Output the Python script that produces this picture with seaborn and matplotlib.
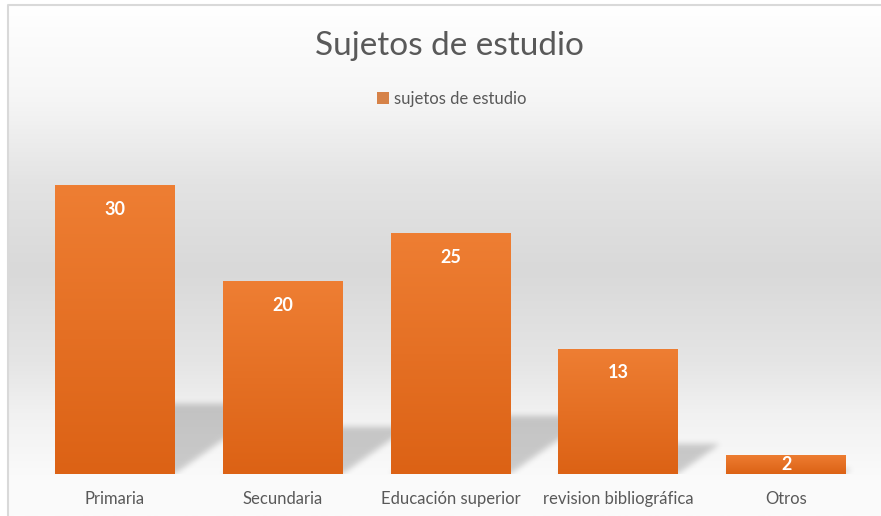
import numpy as np
import pandas as pd
import seaborn as sns
import matplotlib.pyplot as plt
from matplotlib.colors import LinearSegmentedColormap
from matplotlib.lines import Line2D

# data
categorias = ['Primaria', 'Secundaria', 'Educación superior', 'revision bibliográfica', 'Otros']
valores = [30, 20, 25, 13, 2]
serie = 'sujetos de estudio'

df = pd.DataFrame({'categoria': categorias, 'valor': valores, 'serie': serie})

W, H = 881, 516
fig = plt.figure(figsize=(W / 100, H / 100), dpi=100)
fig.patch.set_facecolor('white')
font = ['Lato', 'DejaVu Sans']
gris = '#595959'
naranja = '#ed7d31'

# background gradient inside the chart border
bg = fig.add_axes([8 / W, 0, 1 - 8 / W, 1 - 5 / H])
bg.set_zorder(0)
stops = [(0.0, '#ffffff'), (0.18, '#f6f6f6'), (0.35, '#e3e3e3'), (0.52, '#d9d9d9'),
         (0.70, '#e5e5e5'), (0.80, '#f1f1f1'), (0.92, '#fafafa'), (1.0, '#fbfbfb')]
cmap_bg = LinearSegmentedColormap.from_list('bg', stops)
bg.imshow(np.linspace(0, 1, 256).reshape(-1, 1), cmap=cmap_bg, aspect='auto',
          extent=[0, 1, 0, 1])
bg.axis('off')
fig.add_artist(Line2D([8 / W, 8 / W, 1], [0, 1 - 5 / H, 1 - 5 / H],
                      transform=fig.transFigure, color='#d9d9d9', lw=1.5))

ax = fig.add_axes([31 / W, 42 / H, 839 / W, 337 / H])
ax.set_zorder(1)
ax.patch.set_alpha(0)

sns.barplot(data=df, x='categoria', y='valor', hue='serie', palette=[naranja],
            dodge=False, width=0.715, ax=ax, zorder=3)
ymax = 35

# perspective shadows behind the bars (rasterised and blurred)
nx, ny = 839, 337
xs = np.linspace(-0.5, 4.5, nx)
ys = np.linspace(0, ymax, ny)
X, Y = np.meshgrid(xs, ys)
skew = 0.0815
mask = np.zeros_like(X)
for i, v in enumerate(valores):
    sh = 0.24 * v
    x0, x1 = i - 0.3575, i + 0.3575
    inside = (Y <= sh) & (X >= x0 + skew * Y) & (X <= x1 + skew * Y)
    mask[inside] = 1.0
k = np.exp(-0.5 * (np.arange(-9, 10) / 3.0) ** 2)
k /= k.sum()
blur = np.apply_along_axis(lambda r: np.convolve(r, k, mode='same'), 1, mask)
blur = np.apply_along_axis(lambda c: np.convolve(c, k, mode='same'), 0, blur)
rgba = np.zeros((ny, nx, 4))
rgba[..., 3] = 0.19 * blur
ax.imshow(rgba, origin='lower', aspect='auto', extent=[-0.5, 4.5, 0, ymax],
          zorder=1, interpolation='bilinear')

# vertical gradient on each bar
cmap_bar = LinearSegmentedColormap.from_list('bar', ['#dc6215', '#ee7e33'])
grad = np.linspace(0, 1, 128).reshape(-1, 1)
for p in ax.patches:
    if p.get_zorder() != 3 or p.get_height() <= 0:
        continue
    x, y, w, h = p.get_x(), p.get_y(), p.get_width(), p.get_height()
    im = ax.imshow(grad, cmap=cmap_bar, aspect='auto', origin='lower',
                   extent=[x, x + w, y, y + h], zorder=4)
    im.set_clip_path(p)
ax.set_xlim(-0.5, 4.5)
ax.set_ylim(0, ymax)

# data labels
for i, v in enumerate(valores):
    ax.text(i, max(v - 2.5, v / 2), str(v), ha='center', va='center', color='white',
            fontsize=13, fontweight='bold', family=font, zorder=5)

sns.despine(ax=ax, left=True, bottom=True)
ax.set_yticks([])
ax.set_xlabel('')
ax.set_ylabel('')
ax.tick_params(axis='x', length=0, pad=12, labelsize=12, labelcolor=gris)
for t in ax.get_xticklabels():
    t.set_family(font)

fig.text(449 / W, 1 - 46 / H, 'Sujetos de estudio', ha='center', va='center',
         fontsize=24, color=gris, family=font)

ax.legend(loc='center', bbox_to_anchor=(452 / W, 1 - 99 / H), bbox_transform=fig.transFigure,
          frameon=False, handlelength=0.7, handleheight=0.7, handletextpad=0.3,
          prop={'family': font, 'size': 12}, labelcolor=gris)

fig.savefig('out.png', dpi=100)
